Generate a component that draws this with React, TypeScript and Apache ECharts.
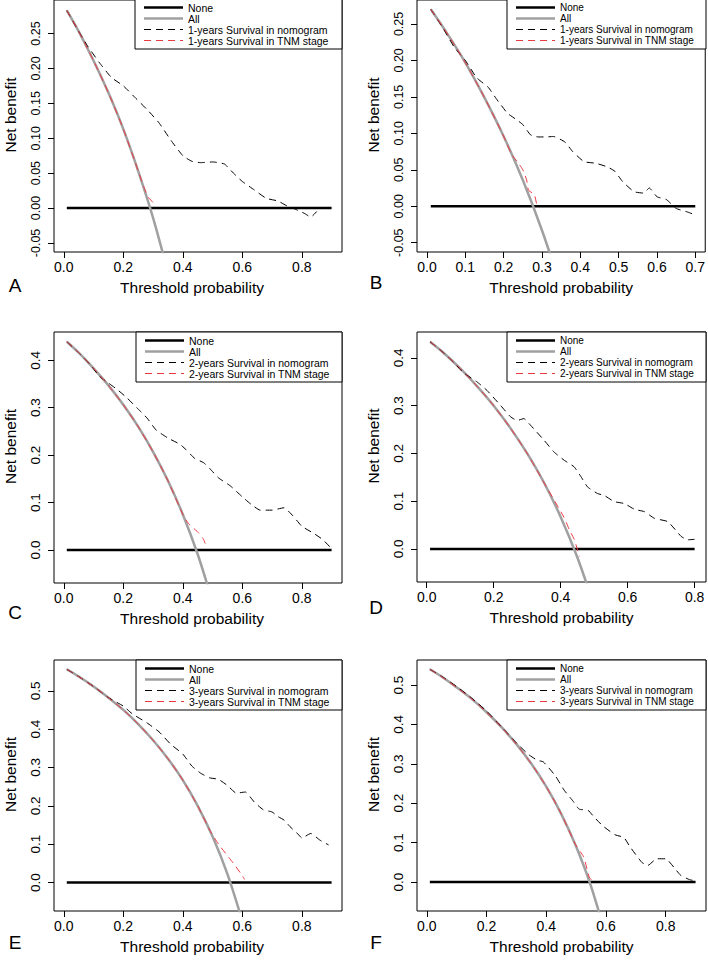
import { useEffect, useRef } from "react";
import * as echarts from "echarts";

const FONT = "'Liberation Sans', Arial, Helvetica, sans-serif";

// ---------- tick values ----------
const X_TICKS_02 = [0, 0.2, 0.4, 0.6, 0.8];
const X_TICKS_01 = [0, 0.1, 0.2, 0.3, 0.4, 0.5, 0.6, 0.7];
const Y_TICKS_1Y = [-0.05, 0, 0.05, 0.1, 0.15, 0.2, 0.25];
const Y_TICKS_2Y = [0, 0.1, 0.2, 0.3, 0.4];
const Y_TICKS_3Y = [0, 0.1, 0.2, 0.3, 0.4, 0.5];

// ---------- Panel A ----------
const A_noneX = [0.01, 0.9];
const A_noneY = [0, 0];
const A_allX = [0.01, 0.05, 0.1, 0.15, 0.2, 0.25, 0.3, 0.35];
const A_allY = [0.283, 0.253, 0.211, 0.165, 0.113, 0.053, -0.014, -0.092];
const A_nomoX = [0.01, 0.05, 0.08, 0.12, 0.16, 0.2, 0.24, 0.28, 0.32, 0.36, 0.4, 0.43, 0.46, 0.5, 0.54, 0.57, 0.6, 0.64, 0.68, 0.72, 0.75, 0.78, 0.81, 0.83, 0.85];
const A_nomoY = [0.283, 0.253, 0.232, 0.208, 0.187, 0.175, 0.158, 0.141, 0.122, 0.097, 0.075, 0.067, 0.065, 0.066, 0.063, 0.05, 0.038, 0.026, 0.014, 0.01, 0.003, -0.002, -0.008, -0.013, -0.005];
const A_tnmX = [0.01, 0.05, 0.1, 0.15, 0.2, 0.25, 0.27, 0.285, 0.3, 0.31];
const A_tnmY = [0.283, 0.253, 0.211, 0.165, 0.113, 0.053, 0.029, 0.015, 0.008, 0.004];

// ---------- Panel B ----------
const B_noneX = [0.01, 0.7];
const B_noneY = [0, 0];
const B_allX = [0.01, 0.05, 0.1, 0.15, 0.2, 0.25, 0.3, 0.35];
const B_allY = [0.27, 0.239, 0.197, 0.149, 0.096, 0.036, -0.033, -0.112];
const B_nomoX = [0.01, 0.04, 0.07, 0.1, 0.13, 0.16, 0.18, 0.21, 0.23, 0.25, 0.27, 0.29, 0.31, 0.33, 0.36, 0.38, 0.41, 0.44, 0.47, 0.49, 0.51, 0.54, 0.565, 0.58, 0.6, 0.625, 0.65, 0.68, 0.7];
const B_nomoY = [0.27, 0.246, 0.219, 0.2, 0.176, 0.163, 0.148, 0.1275, 0.12, 0.112, 0.098, 0.095, 0.095, 0.0956, 0.088, 0.075, 0.061, 0.059, 0.054, 0.048, 0.034, 0.02, 0.018, 0.025, 0.013, 0.009, -0.003, -0.008, -0.012];
const B_tnmX = [0.01, 0.05, 0.1, 0.15, 0.2, 0.22, 0.24, 0.25, 0.26, 0.265, 0.28, 0.287];
const B_tnmY = [0.27, 0.239, 0.197, 0.149, 0.096, 0.072, 0.058, 0.05, 0.036, 0.022, 0.016, 0.0];

// ---------- Panel C ----------
const C_noneX = [0.01, 0.9];
const C_noneY = [0, 0];
const C_allX = [0.01, 0.05, 0.1, 0.15, 0.2, 0.25, 0.3, 0.35, 0.4, 0.45, 0.5];
const C_allY = [0.439, 0.416, 0.383, 0.347, 0.306, 0.26, 0.207, 0.146, 0.075, -0.009, -0.11];
const C_nomoX = [0.01, 0.05, 0.09, 0.12, 0.15, 0.18, 0.21, 0.25, 0.28, 0.31, 0.35, 0.39, 0.41, 0.44, 0.47, 0.49, 0.52, 0.56, 0.6, 0.63, 0.66, 0.7, 0.74, 0.77, 0.8, 0.84, 0.87, 0.9];
const C_nomoY = [0.439, 0.416, 0.39, 0.366, 0.352, 0.338, 0.322, 0.297, 0.278, 0.253, 0.236, 0.223, 0.212, 0.193, 0.184, 0.172, 0.152, 0.135, 0.112, 0.096, 0.084, 0.084, 0.089, 0.072, 0.05, 0.035, 0.022, 0.003];
const C_tnmX = [0.01, 0.05, 0.1, 0.15, 0.2, 0.25, 0.3, 0.35, 0.4, 0.42, 0.45, 0.47, 0.48];
const C_tnmY = [0.439, 0.416, 0.383, 0.347, 0.306, 0.26, 0.207, 0.146, 0.075, 0.055, 0.038, 0.022, 0.003];

// ---------- Panel D ----------
const D_noneX = [0.01, 0.8];
const D_noneY = [0, 0];
const D_allX = [0.01, 0.05, 0.1, 0.15, 0.2, 0.25, 0.3, 0.35, 0.4, 0.45, 0.5];
const D_allY = [0.434, 0.411, 0.378, 0.341, 0.3, 0.253, 0.2, 0.139, 0.067, -0.018, -0.12];
const D_nomoX = [0.01, 0.05, 0.08, 0.11, 0.15, 0.18, 0.22, 0.25, 0.27, 0.29, 0.31, 0.35, 0.38, 0.41, 0.44, 0.46, 0.48, 0.51, 0.53, 0.56, 0.59, 0.62, 0.65, 0.68, 0.72, 0.76, 0.78, 0.8];
const D_nomoY = [0.434, 0.411, 0.391, 0.369, 0.35, 0.332, 0.301, 0.277, 0.269, 0.273, 0.259, 0.228, 0.203, 0.186, 0.172, 0.152, 0.13, 0.116, 0.112, 0.099, 0.095, 0.083, 0.078, 0.064, 0.057, 0.026, 0.019, 0.02];
const D_tnmX = [0.01, 0.05, 0.1, 0.15, 0.2, 0.25, 0.3, 0.35, 0.41, 0.426, 0.441, 0.456];
const D_tnmY = [0.434, 0.411, 0.378, 0.341, 0.3, 0.253, 0.2, 0.139, 0.066, 0.04, 0.019, -0.016];

// ---------- Panel E ----------
const E_noneX = [0.01, 0.9];
const E_noneY = [0, 0];
const E_allX = [0.01, 0.05, 0.1, 0.15, 0.2, 0.25, 0.3, 0.35, 0.4, 0.45, 0.5, 0.55, 0.6];
const E_allY = [0.556, 0.537, 0.511, 0.482, 0.45, 0.413, 0.371, 0.323, 0.267, 0.2, 0.12, 0.022, -0.1];
const E_nomoX = [0.01, 0.05, 0.1, 0.15, 0.2, 0.23, 0.28, 0.32, 0.36, 0.4, 0.43, 0.46, 0.49, 0.52, 0.55, 0.58, 0.61, 0.64, 0.67, 0.7, 0.72, 0.74, 0.76, 0.79, 0.8, 0.83, 0.86, 0.89];
const E_nomoY = [0.556, 0.537, 0.511, 0.482, 0.46, 0.44, 0.416, 0.393, 0.36, 0.335, 0.304, 0.285, 0.273, 0.269, 0.253, 0.233, 0.236, 0.21, 0.19, 0.184, 0.172, 0.163, 0.146, 0.124, 0.116, 0.128, 0.111, 0.098];
const E_tnmX = [0.01, 0.05, 0.1, 0.15, 0.2, 0.25, 0.3, 0.35, 0.4, 0.45, 0.49, 0.52, 0.55, 0.57, 0.6, 0.607];
const E_tnmY = [0.556, 0.537, 0.511, 0.482, 0.45, 0.413, 0.371, 0.323, 0.267, 0.2, 0.137, 0.1, 0.07, 0.05, 0.018, 0.008];

// ---------- Panel F ----------
const F_noneX = [0.01, 0.9];
const F_noneY = [0, 0];
const F_allX = [0.01, 0.05, 0.1, 0.15, 0.2, 0.25, 0.3, 0.35, 0.4, 0.45, 0.5, 0.55, 0.6];
const F_allY = [0.54, 0.521, 0.494, 0.465, 0.431, 0.393, 0.35, 0.3, 0.242, 0.173, 0.09, -0.011, -0.138];
const F_nomoX = [0.01, 0.05, 0.1, 0.15, 0.2, 0.25, 0.3, 0.34, 0.37, 0.39, 0.43, 0.46, 0.49, 0.51, 0.54, 0.56, 0.59, 0.63, 0.66, 0.68, 0.72, 0.74, 0.77, 0.8, 0.83, 0.85, 0.88, 0.9];
const F_nomoY = [0.54, 0.522, 0.496, 0.467, 0.434, 0.394, 0.353, 0.324, 0.309, 0.305, 0.27, 0.233, 0.205, 0.185, 0.182, 0.165, 0.142, 0.12, 0.113, 0.09, 0.05, 0.042, 0.059, 0.059, 0.035, 0.017, 0.006, 0.003];
const F_tnmX = [0.01, 0.05, 0.1, 0.15, 0.2, 0.25, 0.3, 0.35, 0.4, 0.45, 0.5, 0.525, 0.545, 0.556];
const F_tnmY = [0.54, 0.521, 0.494, 0.465, 0.431, 0.393, 0.35, 0.3, 0.242, 0.173, 0.092, 0.064, 0.01, 0.005];

const LEGEND_BASE = ["None", "All"];
const YEARS = ["1-years", "1-years", "2-years", "2-years", "3-years", "3-years"];

const zip = (xs: number[], ys: number[]) => xs.map((x, i) => [x, ys[i]]);

type Panel = {
  letter: string;
  left: number; top: number; width: number; height: number;
  xMin: number; xMax: number; yMin: number; yMax: number;
  xTicks: number[]; yTicks: number[]; yDec: number; yFont: number;
  letterX: number; letterY: number; legW: number; legFont: number; nameShift: number;
  none: number[][]; all: number[][]; nomo: number[][]; tnm: number[][];
};

const panels: Panel[] = [
  { letter: "A", left: 54, top: -1, width: 288, height: 253, xMin: -0.033, xMax: 0.935, yMin: -0.063, yMax: 0.298,
    xTicks: X_TICKS_02, yTicks: Y_TICKS_1Y, yDec: 2, yFont: 12.5, letterX: 15, letterY: 285, legW: 207, legFont: 10.5, nameShift: 12,
    none: zip(A_noneX, A_noneY), all: zip(A_allX, A_allY), nomo: zip(A_nomoX, A_nomoY), tnm: zip(A_tnmX, A_tnmY) },
  { letter: "B", left: 417, top: -1, width: 289, height: 253, xMin: -0.026, xMax: 0.726, yMin: -0.0628, yMax: 0.2828,
    xTicks: X_TICKS_01, yTicks: Y_TICKS_1Y, yDec: 2, yFont: 12.5, letterX: 376, letterY: 282, legW: 199, legFont: 10, nameShift: 0,
    none: zip(B_noneX, B_noneY), all: zip(B_allX, B_allY), nomo: zip(B_nomoX, B_nomoY), tnm: zip(B_tnmX, B_tnmY) },
  { letter: "C", left: 54, top: 332, width: 288, height: 251, xMin: -0.033, xMax: 0.935, yMin: -0.0696, yMax: 0.4596,
    xTicks: X_TICKS_02, yTicks: Y_TICKS_2Y, yDec: 1, yFont: 13.5, letterX: 15, letterY: 612, legW: 206, legFont: 10.5, nameShift: 12,
    none: zip(C_noneX, C_noneY), all: zip(C_allX, C_allY), nomo: zip(C_nomoX, C_nomoY), tnm: zip(C_tnmX, C_tnmY) },
  { letter: "D", left: 417, top: 332, width: 289, height: 250, xMin: -0.029, xMax: 0.834, yMin: -0.0694, yMax: 0.4544,
    xTicks: X_TICKS_02, yTicks: Y_TICKS_2Y, yDec: 1, yFont: 13.5, letterX: 376, letterY: 607, legW: 199, legFont: 10, nameShift: 0,
    none: zip(D_noneX, D_noneY), all: zip(D_allX, D_allY), nomo: zip(D_nomoX, D_nomoY), tnm: zip(D_tnmX, D_tnmY) },
  { letter: "E", left: 54, top: 660, width: 288, height: 251, xMin: -0.033, xMax: 0.935, yMin: -0.0742, yMax: 0.5802,
    xTicks: X_TICKS_02, yTicks: Y_TICKS_3Y, yDec: 1, yFont: 13.5, letterX: 15, letterY: 942, legW: 206, legFont: 10.5, nameShift: 12,
    none: zip(E_noneX, E_noneY), all: zip(E_allX, E_allY), nomo: zip(E_nomoX, E_nomoY), tnm: zip(E_tnmX, E_tnmY) },
  { letter: "F", left: 417, top: 660, width: 289, height: 251, xMin: -0.033, xMax: 0.935, yMin: -0.0736, yMax: 0.5636,
    xTicks: X_TICKS_02, yTicks: Y_TICKS_3Y, yDec: 1, yFont: 13.5, letterX: 376, letterY: 942, legW: 199, legFont: 10, nameShift: 0,
    none: zip(F_noneX, F_noneY), all: zip(F_allX, F_allY), nomo: zip(F_nomoX, F_nomoY), tnm: zip(F_tnmX, F_tnmY) },
];

const GRAY = "#a0a0a0";
const RED = "#ec3a45";
const DASH = [7, 5];

function buildOption() {
  const grid: any[] = [];
  const xAxis: any[] = [];
  const yAxis: any[] = [];
  const series: any[] = [];
  const graphic: any[] = [];

  panels.forEach((p, i) => {
    grid.push({
      left: p.left, top: p.top, width: p.width, height: p.height,
      show: true, borderColor: "#000", borderWidth: 1, backgroundColor: "transparent",
    });
    xAxis.push({
      gridIndex: i, type: "value", min: p.xMin, max: p.xMax,
      axisLine: { show: false, onZero: false },
      axisTick: { show: true, inside: false, length: 6, customValues: p.xTicks, lineStyle: { color: "#000", width: 1 } },
      axisLabel: { customValues: p.xTicks, fontSize: 14, color: "#000", margin: 8, fontFamily: FONT,
        formatter: (v: number) => v.toFixed(1) },
      splitLine: { show: false },
      name: "Threshold probability", nameLocation: "middle", nameGap: 27,
      nameTextStyle: { fontSize: 15.5, color: "#000", fontFamily: FONT, padding: [0, p.nameShift, 0, 0] },
    });
    yAxis.push({
      gridIndex: i, type: "value", min: p.yMin, max: p.yMax,
      axisLine: { show: false, onZero: false },
      axisTick: { show: true, inside: false, length: 6, customValues: p.yTicks, lineStyle: { color: "#000", width: 1 } },
      axisLabel: { customValues: p.yTicks, fontSize: p.yFont, color: "#000", margin: 12, rotate: 90, fontFamily: FONT,
        formatter: (v: number) => v.toFixed(p.yDec) },
      splitLine: { show: false },
      name: "Net benefit", nameLocation: "middle", nameGap: 36,
      nameTextStyle: { fontSize: 15.5, color: "#000", fontFamily: FONT, padding: [0, 0, 0, 22] },
    });
    const common = { type: "line", xAxisIndex: i, yAxisIndex: i, symbol: "none", showSymbol: false, silent: true, clip: true };
    series.push({ ...common, name: "None", data: p.none, lineStyle: { color: "#000", width: 2.5 }, z: 2 });
    series.push({ ...common, name: "All", data: p.all, smooth: 0.3, lineStyle: { color: GRAY, width: 2.5 }, z: 3 });
    series.push({ ...common, name: YEARS[i] + " Survival in nomogram", data: p.nomo, smooth: 0.15,
      lineStyle: { color: "#000", width: 1, type: DASH }, z: 4 });
    series.push({ ...common, name: YEARS[i] + " Survival in TNM stage", data: p.tnm, smooth: 0.2,
      lineStyle: { color: RED, width: 1, type: DASH }, z: 5 });

    // legend box (R style)
    const lx = p.left + p.width - p.legW;
    const ly = p.top;
    const rows = [8.5, 19.5, 30.5, 41.5];
    const labels = [LEGEND_BASE[0], LEGEND_BASE[1], YEARS[i] + " Survival in nomogram", YEARS[i] + " Survival in TNM stage"];
    const styles: any[] = [
      { stroke: "#000", lineWidth: 2.5 },
      { stroke: GRAY, lineWidth: 2.5 },
      { stroke: "#000", lineWidth: 1, lineDash: DASH },
      { stroke: RED, lineWidth: 1, lineDash: DASH },
    ];
    const children: any[] = [
      { type: "rect", z: 100, shape: { x: 0, y: 0, width: p.legW, height: 50 }, style: { fill: "#fff", stroke: "#000", lineWidth: 1 } },
    ];
    rows.forEach((ry, k) => {
      children.push({ type: "line", z: 101, shape: { x1: 9, y1: ry, x2: 48, y2: ry }, style: styles[k] });
      children.push({ type: "text", z: 101, x: 53, y: ry,
        style: { text: labels[k], fontSize: p.legFont, lineHeight: 10, fontFamily: FONT, fill: "#000", verticalAlign: "middle", align: "left" } });
    });
    graphic.push({ type: "group", x: lx, y: ly, z: 100, children });
    graphic.push({ type: "text", z: 100, x: p.letterX, y: p.letterY,
      style: { text: p.letter, fontSize: 19, fontFamily: FONT, fill: "#000", align: "center", verticalAlign: "middle" } });
  });

  return {
    animation: false,
    backgroundColor: "#fff",
    textStyle: { fontFamily: FONT },
    grid, xAxis, yAxis, series, graphic,
  };
}

export default function App() {
  const ref = useRef<HTMLDivElement>(null);
  useEffect(() => {
    document.body.style.margin = "0";
    const chart = echarts.init(ref.current!, null, { renderer: "svg" });
    chart.setOption(buildOption() as any);
    return () => chart.dispose();
  }, []);
  return <div ref={ref} style={{ width: 708, height: 960 }} />;
}
